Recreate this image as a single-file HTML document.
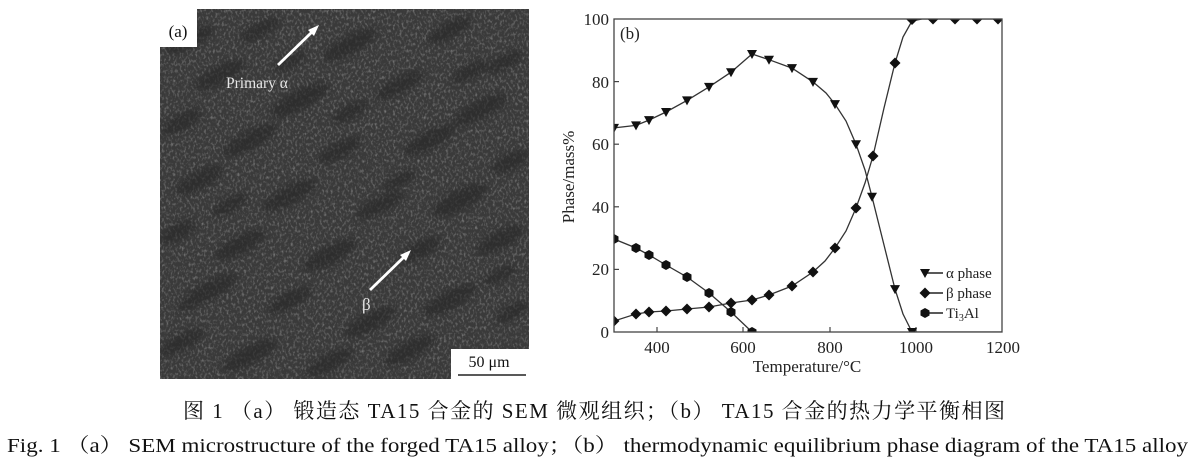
<!DOCTYPE html>
<html><head><meta charset="utf-8"><style>
html,body{margin:0;padding:0;background:#fff;width:1190px;height:474px;overflow:hidden;}
svg{display:block;overflow:hidden;}
</style></head><body>
<svg width="1190" height="474" viewBox="0 0 1190 474" xmlns="http://www.w3.org/2000/svg">
<defs>
<clipPath id="plot"><rect x="614" y="19" width="388" height="313"/></clipPath>
<clipPath id="semclip"><rect x="160" y="9" width="369" height="370"/></clipPath>
<filter id="tex" x="0" y="0" width="100%" height="100%">
<feTurbulence type="fractalNoise" baseFrequency="0.45 0.3" numOctaves="2" seed="7"/>
<feColorMatrix type="matrix" values="0 0 0 0 1  0 0 0 0 1  0 0 0 0 1  1.5 0 0 0 -0.72"/>
</filter>
<filter id="soft" x="-10%" y="-10%" width="120%" height="120%">
<feGaussianBlur stdDeviation="3"/>
</filter>
</defs>

<!-- SEM panel -->
<rect x="160" y="9" width="369" height="370" fill="#3a3a3a"/>
<rect x="160" y="9" width="369" height="370" filter="url(#tex)" opacity="0.5"/>
<g clip-path="url(#semclip)">
<g fill="#262626" opacity="0.6" filter="url(#soft)">
<ellipse cx="190" cy="40" rx="26" ry="8" transform="rotate(-28 190 40)"/>
<ellipse cx="260" cy="30" rx="22" ry="7" transform="rotate(-28 260 30)"/>
<ellipse cx="350" cy="45" rx="30" ry="9" transform="rotate(-28 350 45)"/>
<ellipse cx="450" cy="30" rx="24" ry="8" transform="rotate(-28 450 30)"/>
<ellipse cx="505" cy="62" rx="20" ry="7" transform="rotate(-28 505 62)"/>
<ellipse cx="220" cy="75" rx="28" ry="9" transform="rotate(-28 220 75)"/>
<ellipse cx="300" cy="100" rx="32" ry="10" transform="rotate(-28 300 100)"/>
<ellipse cx="400" cy="85" rx="26" ry="8" transform="rotate(-28 400 85)"/>
<ellipse cx="480" cy="110" rx="30" ry="9" transform="rotate(-28 480 110)"/>
<ellipse cx="182" cy="122" rx="22" ry="8" transform="rotate(-28 182 122)"/>
<ellipse cx="250" cy="140" rx="30" ry="9" transform="rotate(-28 250 140)"/>
<ellipse cx="340" cy="150" rx="24" ry="8" transform="rotate(-28 340 150)"/>
<ellipse cx="430" cy="140" rx="28" ry="9" transform="rotate(-28 430 140)"/>
<ellipse cx="510" cy="162" rx="20" ry="8" transform="rotate(-28 510 162)"/>
<ellipse cx="200" cy="180" rx="26" ry="9" transform="rotate(-28 200 180)"/>
<ellipse cx="290" cy="195" rx="30" ry="9" transform="rotate(-28 290 195)"/>
<ellipse cx="380" cy="205" rx="26" ry="8" transform="rotate(-28 380 205)"/>
<ellipse cx="460" cy="200" rx="30" ry="10" transform="rotate(-28 460 200)"/>
<ellipse cx="178" cy="232" rx="20" ry="8" transform="rotate(-28 178 232)"/>
<ellipse cx="240" cy="245" rx="28" ry="9" transform="rotate(-28 240 245)"/>
<ellipse cx="330" cy="255" rx="30" ry="9" transform="rotate(-28 330 255)"/>
<ellipse cx="420" cy="250" rx="24" ry="8" transform="rotate(-28 420 250)"/>
<ellipse cx="500" cy="240" rx="26" ry="9" transform="rotate(-28 500 240)"/>
<ellipse cx="210" cy="290" rx="30" ry="9" transform="rotate(-28 210 290)"/>
<ellipse cx="290" cy="300" rx="24" ry="8" transform="rotate(-28 290 300)"/>
<ellipse cx="370" cy="322" rx="28" ry="9" transform="rotate(-28 370 322)"/>
<ellipse cx="450" cy="300" rx="30" ry="9" transform="rotate(-28 450 300)"/>
<ellipse cx="512" cy="312" rx="18" ry="7" transform="rotate(-28 512 312)"/>
<ellipse cx="182" cy="342" rx="24" ry="8" transform="rotate(-28 182 342)"/>
<ellipse cx="250" cy="355" rx="30" ry="9" transform="rotate(-28 250 355)"/>
<ellipse cx="330" cy="362" rx="26" ry="8" transform="rotate(-28 330 362)"/>
<ellipse cx="410" cy="350" rx="28" ry="9" transform="rotate(-28 410 350)"/>
<ellipse cx="230" cy="205" rx="20" ry="7" transform="rotate(-28 230 205)"/>
<ellipse cx="350" cy="112" rx="20" ry="7" transform="rotate(-28 350 112)"/>
<ellipse cx="470" cy="72" rx="20" ry="7" transform="rotate(-28 470 72)"/>
<ellipse cx="290" cy="62" rx="18" ry="6" transform="rotate(-28 290 62)"/>
<ellipse cx="400" cy="180" rx="18" ry="6" transform="rotate(-28 400 180)"/>
<ellipse cx="192" cy="302" rx="16" ry="6" transform="rotate(-28 192 302)"/>
<ellipse cx="500" cy="275" rx="18" ry="6" transform="rotate(-28 500 275)"/>
</g>
</g>
<rect x="160" y="9" width="37" height="38" fill="#fff"/>
<text x="178" y="37" font-family="'Liberation Serif', serif" font-size="17" text-anchor="middle" fill="#111">(a)</text>
<rect x="451" y="349" width="79" height="31" fill="#fff"/>
<text x="489" y="367" font-family="'Liberation Serif', serif" font-size="16" text-anchor="middle" fill="#111">50 μm</text>
<line x1="458" y1="375" x2="526" y2="375" stroke="#222" stroke-width="1.5"/>
<!-- arrows -->
<line x1="278" y1="65" x2="312" y2="32" stroke="#fff" stroke-width="2.8"/>
<polygon points="319,25 308,30 314,36" fill="#fff"/>
<line x1="370" y1="290" x2="404" y2="257" stroke="#fff" stroke-width="2.8"/>
<polygon points="411,250 400,255 406,261" fill="#fff"/>
<text x="226" y="88" font-family="'Liberation Serif', serif" font-size="15.5" fill="#e6e6e6">Primary α</text>
<text x="362" y="310" font-family="'Liberation Serif', serif" font-size="17" fill="#e6e6e6">β</text>

<!-- Chart -->
<g font-family="'Liberation Serif', serif" fill="#222">
<g font-size="17" text-anchor="end">
<text x="609" y="338">0</text>
<text x="609" y="275">20</text>
<text x="609" y="213">40</text>
<text x="609" y="150">60</text>
<text x="609" y="88">80</text>
<text x="609" y="25">100</text>
</g>
<g font-size="17" text-anchor="middle">
<text x="657" y="353">400</text>
<text x="743" y="353">600</text>
<text x="830" y="353">800</text>
<text x="916" y="353">1000</text>
<text x="1003" y="353">1200</text>
<text x="807" y="372">Temperature/°C</text>
</g>
<text x="0" y="0" font-size="17" text-anchor="middle" transform="translate(574 177) rotate(-90)">Phase/mass%</text>
<text x="620" y="39" font-size="17">(b)</text>
</g>

<!-- ticks -->
<g stroke="#444" stroke-width="1.2">
<line x1="657" y1="332" x2="657" y2="327"/>
<line x1="743" y1="332" x2="743" y2="327"/>
<line x1="830" y1="332" x2="830" y2="327"/>
<line x1="916" y1="332" x2="916" y2="327"/>
<line x1="614" y1="269.4" x2="619" y2="269.4"/>
<line x1="614" y1="206.8" x2="619" y2="206.8"/>
<line x1="614" y1="144.2" x2="619" y2="144.2"/>
<line x1="614" y1="81.6" x2="619" y2="81.6"/>
</g>

<g clip-path="url(#plot)">
<polyline fill="none" stroke="#333" stroke-width="1.3" points="614,127.9 636,125.4 649,120.1 666,112 687,100.4 709,86.9 731,72.2 752,54 769,59.7 792,68.1 813,81.9 826,93 835,104.1 846,121 856,144.2 865,170 872,196.8 884,245 895,289.1 903,314 912,332 1002,332"/>
<polyline fill="none" stroke="#333" stroke-width="1.3" points="614,321 636,314 649,312 666,311 687,309 709,307 731,303 752,300 769,295 792,286 813,272 825,261 835,248 846,231 856,208 865,183 873,156 884,108 895,63 903,37 912,21 922,19 1002,19"/>
<polyline fill="none" stroke="#333" stroke-width="1.3" points="614,239 636,248 649,255 666,265 687,277 709,293 731,312 752,332"/>

<g fill="#111">
<polygon points="609,123.9 619,123.9 614,132.9"/>
<polygon points="631,121.4 641,121.4 636,130.4"/>
<polygon points="644,116.1 654,116.1 649,125.1"/>
<polygon points="661,108 671,108 666,117"/>
<polygon points="682,96.4 692,96.4 687,105.4"/>
<polygon points="704,82.9 714,82.9 709,91.9"/>
<polygon points="726,68.2 736,68.2 731,77.2"/>
<polygon points="747,50 757,50 752,59"/>
<polygon points="764,55.7 774,55.7 769,64.7"/>
<polygon points="787,64.1 797,64.1 792,73.1"/>
<polygon points="808,77.9 818,77.9 813,86.9"/>
<polygon points="830,100.1 840,100.1 835,109.1"/>
<polygon points="851,140.2 861,140.2 856,149.2"/>
<polygon points="867,192.8 877,192.8 872,201.8"/>
<polygon points="890,285.1 900,285.1 895,294.1"/>
<polygon points="907,328 917,328 912,337"/>
<polygon points="614,315.5 619.5,321 614,326.5 608.5,321"/>
<polygon points="636,308.5 641.5,314 636,319.5 630.5,314"/>
<polygon points="649,306.5 654.5,312 649,317.5 643.5,312"/>
<polygon points="666,305.5 671.5,311 666,316.5 660.5,311"/>
<polygon points="687,303.5 692.5,309 687,314.5 681.5,309"/>
<polygon points="709,301.5 714.5,307 709,312.5 703.5,307"/>
<polygon points="731,297.5 736.5,303 731,308.5 725.5,303"/>
<polygon points="752,294.5 757.5,300 752,305.5 746.5,300"/>
<polygon points="769,289.5 774.5,295 769,300.5 763.5,295"/>
<polygon points="792,280.5 797.5,286 792,291.5 786.5,286"/>
<polygon points="813,266.5 818.5,272 813,277.5 807.5,272"/>
<polygon points="835,242.5 840.5,248 835,253.5 829.5,248"/>
<polygon points="856,202.5 861.5,208 856,213.5 850.5,208"/>
<polygon points="873,150.5 878.5,156 873,161.5 867.5,156"/>
<polygon points="895,57.5 900.5,63 895,68.5 889.5,63"/>
<polygon points="912,14 917.5,19.5 912,25 906.5,19.5"/>
<polygon points="933,13.5 938.5,19 933,24.5 927.5,19"/>
<polygon points="955,13.5 960.5,19 955,24.5 949.5,19"/>
<polygon points="977,13.5 982.5,19 977,24.5 971.5,19"/>
<polygon points="998,13.5 1003.5,19 998,24.5 992.5,19"/>
<polygon points="614,234 618.5,236.5 618.5,241.5 614,244 609.5,241.5 609.5,236.5"/>
<polygon points="636,243 640.5,245.5 640.5,250.5 636,253 631.5,250.5 631.5,245.5"/>
<polygon points="649,250 653.5,252.5 653.5,257.5 649,260 644.5,257.5 644.5,252.5"/>
<polygon points="666,260 670.5,262.5 670.5,267.5 666,270 661.5,267.5 661.5,262.5"/>
<polygon points="687,272 691.5,274.5 691.5,279.5 687,282 682.5,279.5 682.5,274.5"/>
<polygon points="709,288 713.5,290.5 713.5,295.5 709,298 704.5,295.5 704.5,290.5"/>
<polygon points="731,307 735.5,309.5 735.5,314.5 731,317 726.5,314.5 726.5,309.5"/>
<polygon points="752,327 756.5,329.5 756.5,334.5 752,337 747.5,334.5 747.5,329.5"/>
</g>
</g>

<rect x="614" y="19" width="388" height="313" fill="none" stroke="#444" stroke-width="1.3"/>

<!-- legend -->
<g stroke="#222" stroke-width="1.4">
<line x1="925" y1="273" x2="943" y2="273"/>
<line x1="925" y1="293" x2="943" y2="293"/>
<line x1="925" y1="313" x2="943" y2="313"/>
</g>
<g fill="#111">
<polygon points="920,269 930,269 925,278"/>
<polygon points="925,287.5 930.5,293 925,298.5 919.5,293"/>
<polygon points="925,308 929.5,310.5 929.5,315.5 925,318 920.5,315.5 920.5,310.5"/>
</g>
<g font-family="'Liberation Serif', serif" font-size="15" fill="#222">
<text x="946" y="278">α phase</text>
<text x="946" y="298">β phase</text>
<text x="946" y="318">Ti<tspan font-size="10" dy="3">3</tspan><tspan dy="-3">Al</tspan></text>
</g>

<!-- captions -->
<text x="183" y="418" textLength="822" lengthAdjust="spacing" font-family="'Liberation Serif', 'Noto Serif CJK SC', serif" font-size="21" fill="#111">图 1 （a） 锻造态 TA15 合金的 SEM 微观组织；（b） TA15 合金的热力学平衡相图</text>
<text x="7" y="452" textLength="1181" lengthAdjust="spacingAndGlyphs" font-family="'Liberation Serif', 'Noto Serif CJK SC', serif" font-size="20" fill="#111">Fig. 1 （a） SEM microstructure of the forged TA15 alloy；（b） thermodynamic equilibrium phase diagram of the TA15 alloy</text>
</svg>
</body></html>
